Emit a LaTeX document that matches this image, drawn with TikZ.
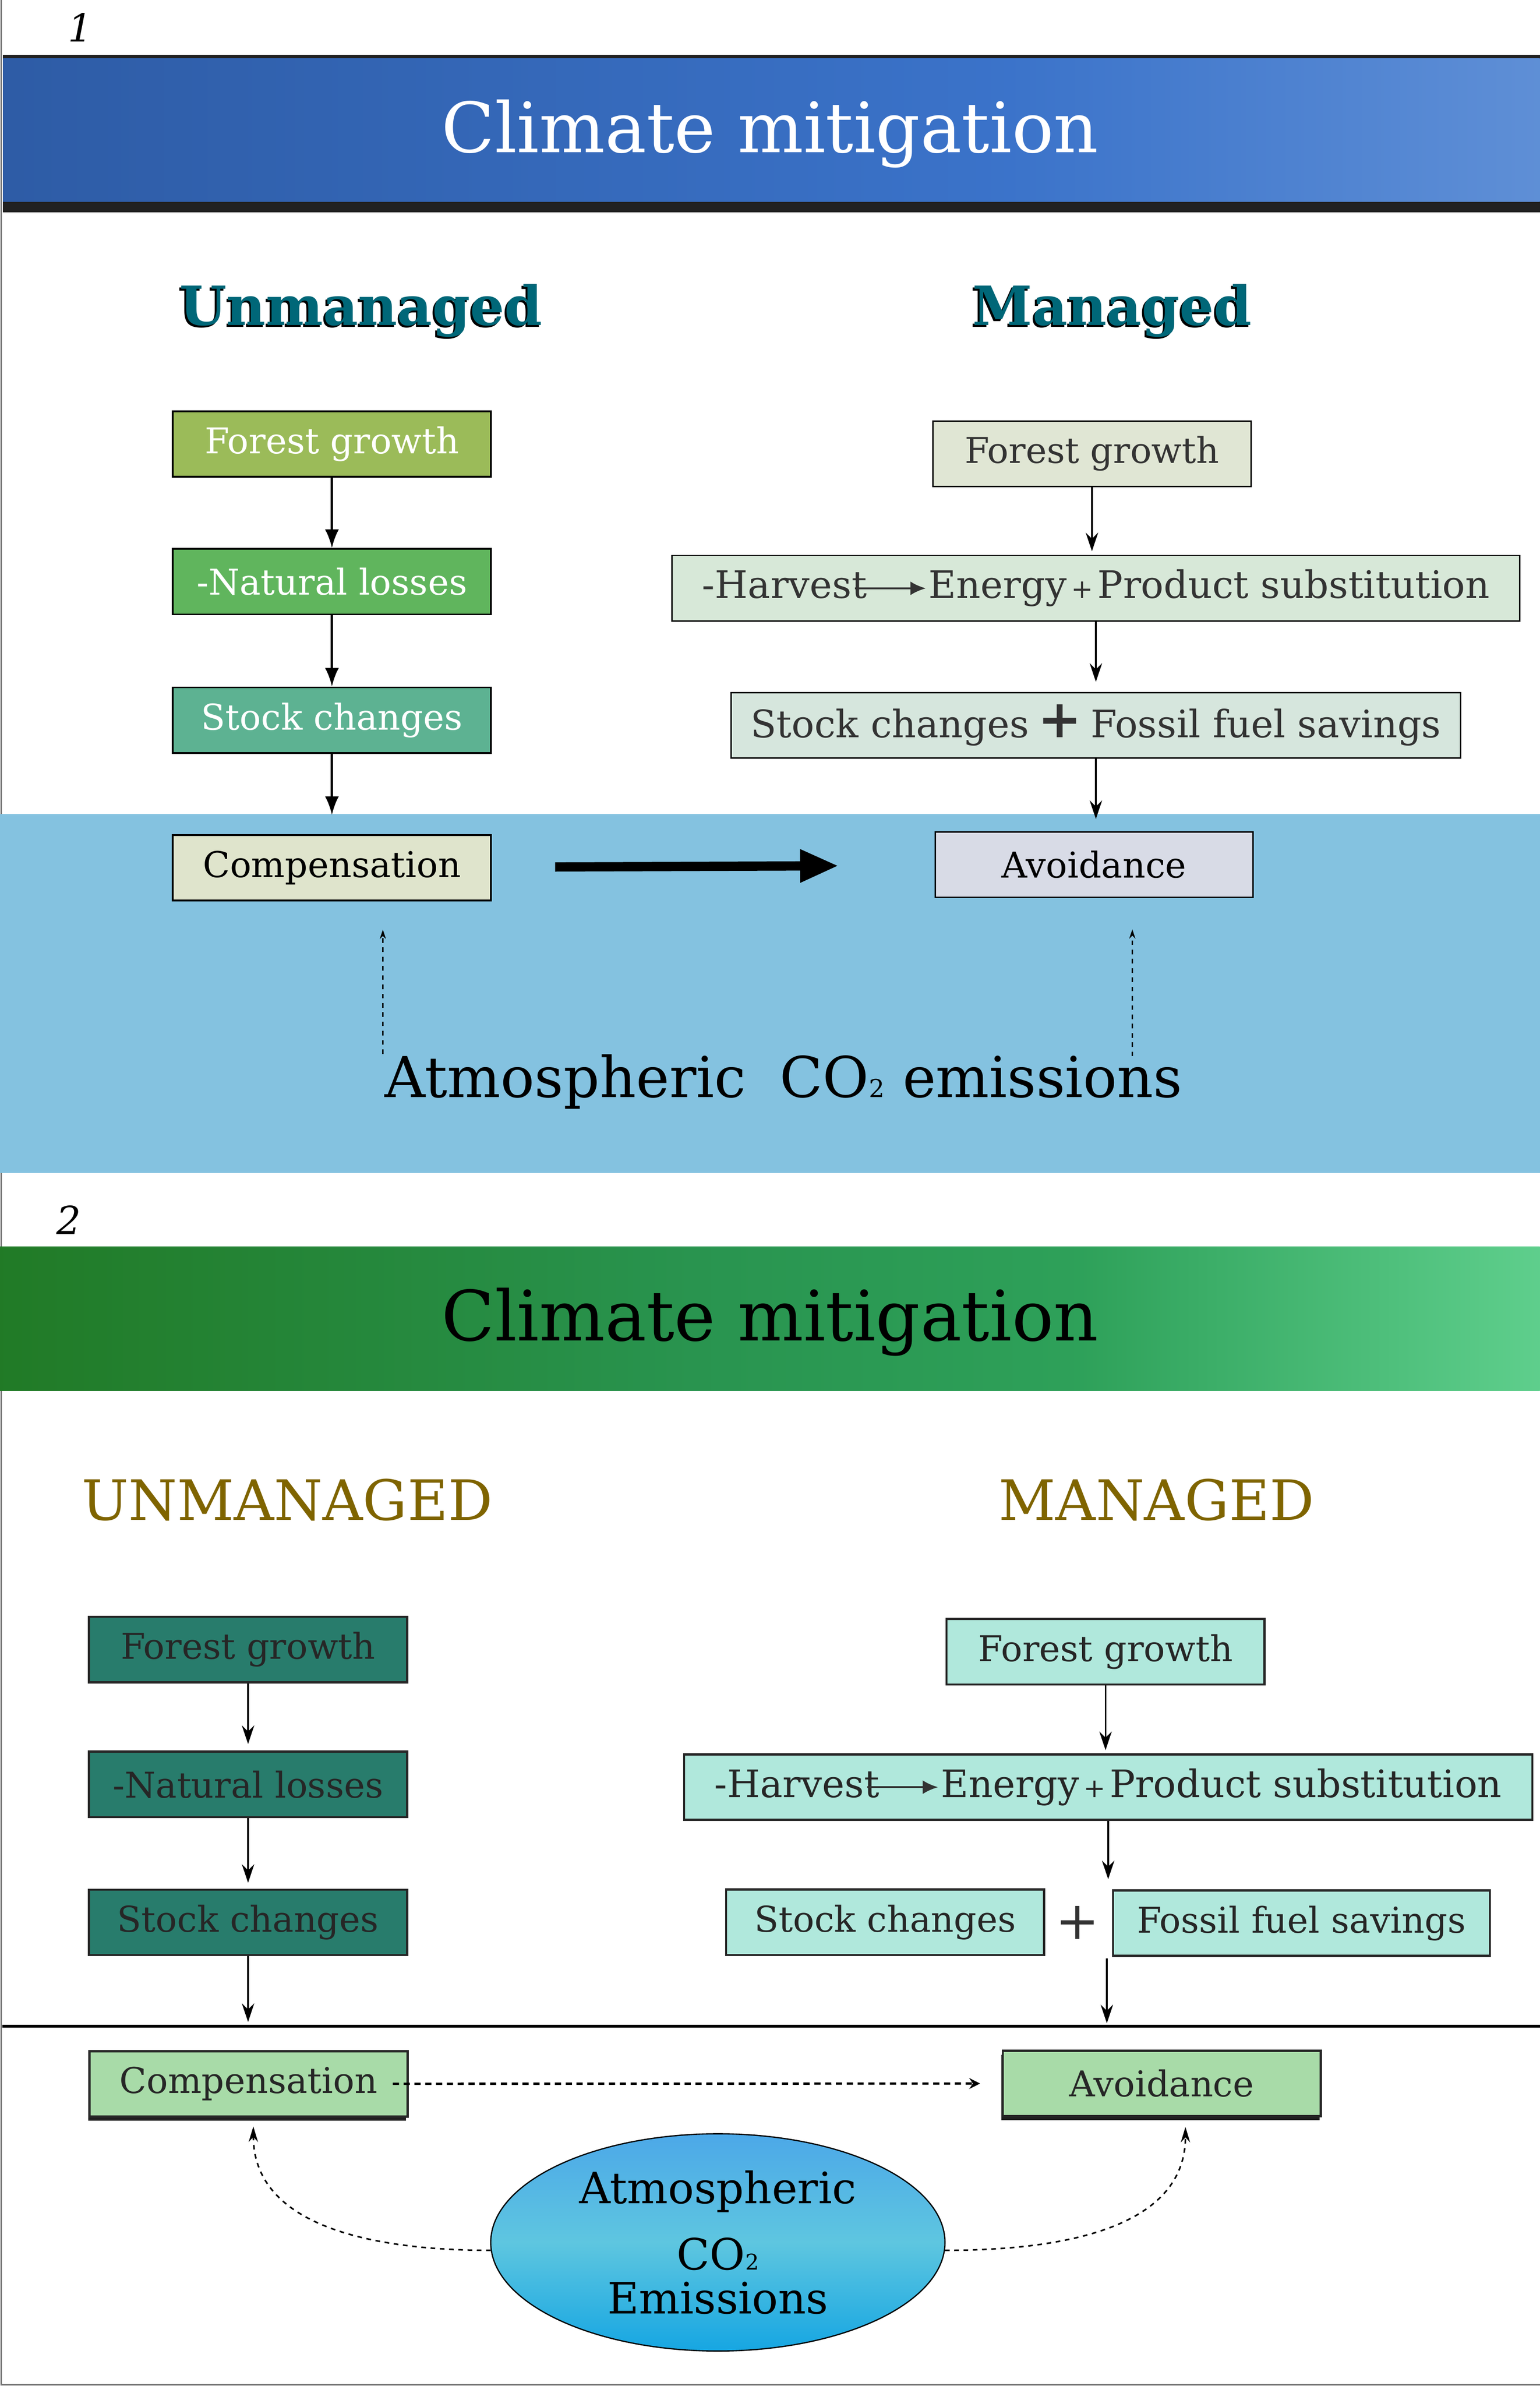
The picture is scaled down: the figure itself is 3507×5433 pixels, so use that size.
\documentclass[tikz,border=0pt]{standalone}
\usepackage{fontspec}
\setmainfont{DejaVu Serif}
\usepackage{amsmath}
\usetikzlibrary{shapes.geometric, arrows, arrows.meta}
\usetikzlibrary{shapes.misc, positioning, shadows, calc}
\usetikzlibrary{backgrounds}
\definecolor{olivegr}{RGB}{155,187,89}
\definecolor{natgr}{RGB}{96,181,93}
\definecolor{stockgr}{RGB}{93,178,146}
\definecolor{compbeige}{RGB}{223,228,204}
\definecolor{fgbeige}{RGB}{224,230,212}
\definecolor{harvgr}{RGB}{215,232,216}
\definecolor{stockpale}{RGB}{214,230,221}
\definecolor{avoidgrey}{RGB}{216,219,230}
\definecolor{skyblue}{RGB}{132,194,224}
\definecolor{tealhead}{RGB}{0,103,120}
\definecolor{darkteal}{RGB}{40,124,108}
\definecolor{mint}{RGB}{176,232,220}
\definecolor{palegreen}{RGB}{168,219,168}
\definecolor{ochre}{RGB}{127,100,0}
\definecolor{txtgrey}{RGB}{51,51,51}
\pgfdeclarehorizontalshading{blueband}{100bp}{rgb(0bp)=(0.18,0.36,0.65); rgb(25bp)=(0.18,0.36,0.65); rgb(57.5bp)=(0.23,0.45,0.79); rgb(75bp)=(0.37,0.56,0.84); rgb(100bp)=(0.37,0.56,0.84)}
\pgfdeclarehorizontalshading{greenband}{100bp}{rgb(0bp)=(0.13,0.48,0.15); rgb(25bp)=(0.13,0.48,0.15); rgb(47.5bp)=(0.16,0.58,0.31); rgb(60bp)=(0.18,0.63,0.35); rgb(75bp)=(0.37,0.81,0.55); rgb(100bp)=(0.37,0.81,0.55)}
\def\bfont{\fontsize{23}{27}\selectfont}
\def\wfont{\fontsize{24.5}{27}\selectfont}
\def\titlefont{\fontsize{45}{50}\selectfont}
\def\headfont{\fontsize{35}{40}\selectfont\bfseries}
\def\capsfont{\fontsize{36}{40}\selectfont}
\def\atmfont{\fontsize{36.5}{40}\selectfont}
\def\ellfont{\fontsize{28}{34}\selectfont}
\def\numfont{\fontsize{25}{28}\selectfont}
\def\harvarrow{\tikz[baseline=-6.5pt]\draw[txtgrey, line width=1.4pt, -{Latex[length=10pt,width=9pt]}] (0pt,0pt) -- (46pt,0pt);}
\def\harv{-Harvest{\kern-0.35em}\harvarrow{\kern0.05em}Energy{\fontsize{17}{17}\selectfont\,+\,}Product substitution}
\tikzstyle{boxa} = [rectangle, minimum width=7.24cm, minimum height=1.49cm, inner sep=0pt, text centered, draw=black, line width=1.2pt, font=\bfont]
\tikzstyle{boxb} = [boxa, line width=0.9pt, text=txtgrey]
\tikzstyle{boxc} = [boxa, draw=black!85, line width=1.4pt, text=black!85]
\tikzstyle{shbox} = [boxc, fill=palegreen, drop shadow={shadow xshift=-0.03cm, shadow yshift=-0.09cm, opacity=1, fill=black!88}]
\tikzstyle{aro} = [-{Latex[length=12pt,width=9pt]}, line width=1.4pt]
\tikzstyle{thinaro} = [-{Stealth[length=12pt,width=8pt]}, line width=1.1pt]
\tikzstyle{bigaro} = [-{Triangle[length=25pt,width=20pt]}, line width=6pt]
\tikzstyle{dasharo} = [-{Stealth[length=6pt,width=4pt]}, dashed, line width=0.7pt]
\tikzstyle{dotaro} = [-{Stealth[length=7pt,width=7pt]}, line width=1.5pt, dash pattern=on 4pt off 3pt]
\tikzstyle{curvearo} = [-{Stealth[length=10pt,width=6pt]}, line width=1pt, dashed]
\begin{document}
\begin{tikzpicture}[x=0.01cm, y=-0.01cm, align=center]
  \useasboundingbox (0,0) rectangle (3507,5433);
  \draw [black!55, line width=0.8pt] (3,0) -- (3,5430) -- (3507,5430);

  % panel 1
  \node (one) [anchor=base, font=\numfont] at (183,95) {\textit{1}};
  \fill [black!87] (7,125) rectangle (3507,484);
  \shade [shading=blueband] (7,133) rectangle (3507,459);
  \node (title1) [anchor=base, font=\titlefont, text=white] at (1754,347) {Climate mitigation};

  \node (umsh) [anchor=base, font=\headfont] at (818,745) {Unmanaged};
  \node (um) [anchor=base, font=\headfont, text=tealhead] at (822,740) {Unmanaged};
  \node (msh) [anchor=base, font=\headfont] at (2529,745) {Managed};
  \node (m) [anchor=base, font=\headfont, text=tealhead] at (2533,740) {Managed};

  \fill [skyblue] (0,1854) rectangle (3507,2671);

  \node (fg1) [boxa, fill=olivegr, text=white] at (756,1011) {Forest growth};
  \node (nl1) [boxa, fill=natgr, text=white, below=1.60cm of fg1] {-Natural losses};
  \node (sc1) [boxa, fill=stockgr, text=white, below=1.62cm of nl1] {Stock changes};
  \node (comp1) [boxa, fill=compbeige, below=1.83cm of sc1] {Compensation};

  \draw [aro] (fg1) edge (nl1)
              (nl1) edge (sc1)
              (sc1) edge[shorten >=0.44cm] (comp1);

  \node (fg1r) [boxb, fill=fgbeige] at (2487,1033) {Forest growth};
  \node (hv1) [boxb, fill=harvgr, font=\wfont, minimum width=19.29cm, below=1.54cm of fg1r, xshift=0.09cm] {\harv};
  \node (sf1) [boxb, fill=stockpale, font=\wfont, minimum width=16.6cm, below=1.60cm of hv1]
    {Stock changes{\fontsize{34}{34}\selectfont\bfseries\,+\,}Fossil fuel savings};
  \node (av1) [boxb, fill=avoidgrey, text=black, below=1.65cm of sf1, xshift=-0.04cm] {Avoidance};

  \draw [thinaro] (fg1r) edge[shorten >=0.08cm] (fg1r |- hv1.north)
                  (hv1) edge[shorten >=0.23cm] (hv1 |- sf1.north)
                  (sf1) edge[shorten >=0.28cm] (sf1 |- av1.north);

  \draw [bigaro, shorten <=1.44cm, shorten >=2.18cm] (comp1) -- (av1);

  \node (atm1) [anchor=base, font=\atmfont] at (1785,2499)
    {Atmospheric\hspace{0.6em}CO{\fontsize{16}{16}\selectfont 2} emissions};
  \coordinate (emL) at (872,2400);
  \coordinate (emR) at (2579,2405);
  \draw [dasharo, shorten >=0.64cm] (emL) -- (emL |- comp1.south);
  \draw [dasharo, shorten >=0.71cm] (emR) -- (emR |- av1.south);

  % panel 2
  \node (two) [anchor=base, font=\numfont] at (157,2810) {\textit{2}};
  \shade [shading=greenband] (0,2839) rectangle (3507,3167);
  \node (title2) [anchor=base, font=\titlefont] at (1754,3053) {Climate mitigation};
  \node (um2) [anchor=base, font=\capsfont, text=ochre] at (654,3461) {UNMANAGED};
  \node (m2) [anchor=base, font=\capsfont, text=ochre] at (2634,3461) {MANAGED};

  \node (fg2) [boxc, fill=darkteal] at (565,3756) {Forest growth};
  \node (nl2) [boxc, fill=darkteal, below=1.53cm of fg2] {-Natural losses};
  \node (sc2) [boxc, fill=darkteal, below=1.60cm of nl2] {Stock changes};

  \node (fg2r) [boxc, fill=mint] at (2518,3761) {Forest growth};
  \node (hv2) [boxc, fill=mint, font=\wfont, minimum width=19.31cm, below=1.54cm of fg2r, xshift=0.06cm] {\harv};
  \node (sc2r) [boxc, fill=mint] at (2016,4377) {Stock changes};
  \node (plus) [font=\fontsize{34}{34}\selectfont, text=black!80] at (2454,4378) {+};
  \node (ff2) [boxc, fill=mint, minimum width=8.58cm] at (2964,4379) {Fossil fuel savings};

  \coordinate (ruleL) at (5,4614);
  \coordinate (ruleR) at (3507,4614);
  \draw [line width=1.8pt] (ruleL) -- (ruleR);

  \draw [thinaro] (fg2) edge[shorten >=0.15cm] (nl2)
                  (nl2) edge[shorten >=0.13cm] (sc2)
                  (sc2) edge[shorten >=0.1cm] (sc2 |- ruleL);
  \draw [thinaro, shorten >=0.07cm] (fg2r) -- (fg2r |- hv2.north);
  \draw [thinaro, shorten >=0.23cm] (hv2.south) -- (hv2.south |- ff2.north);
  \coordinate (pl2) at (2521,4459);
  \draw [thinaro, shorten >=0.07cm] (pl2) -- (pl2 |- ruleL);

  \node (comp2) [shbox] at (566,4745) {Compensation};
  \node (av2) [shbox] at (2646,4744) {Avoidance};
  \draw [dotaro, shorten <=-0.36cm, shorten >=0.49cm] (comp2) -- (av2);

  \node (co2) [ellipse, draw, line width=0.8pt, minimum width=10.34cm, minimum height=4.94cm,
    shading=axis, top color={rgb,255:red,76;green,168;blue,232}, bottom color={rgb,255:red,22;green,166;blue,226},
    middle color={rgb,255:red,94;green,198;blue,224}, font=\ellfont] at (1635,5106)
    {Atmospheric\\[0.31cm]CO{\fontsize{14}{14}\selectfont 2}\\[-0.2cm]Emissions};

  \draw [curvearo] (co2.182) to[out=180, in=-90] ($(comp2.south)+(11,20)$);
  \draw [curvearo] (co2.-2) to[out=0, in=-90] ($(av2.south)+(54,22)$);
\end{tikzpicture}
\end{document}
